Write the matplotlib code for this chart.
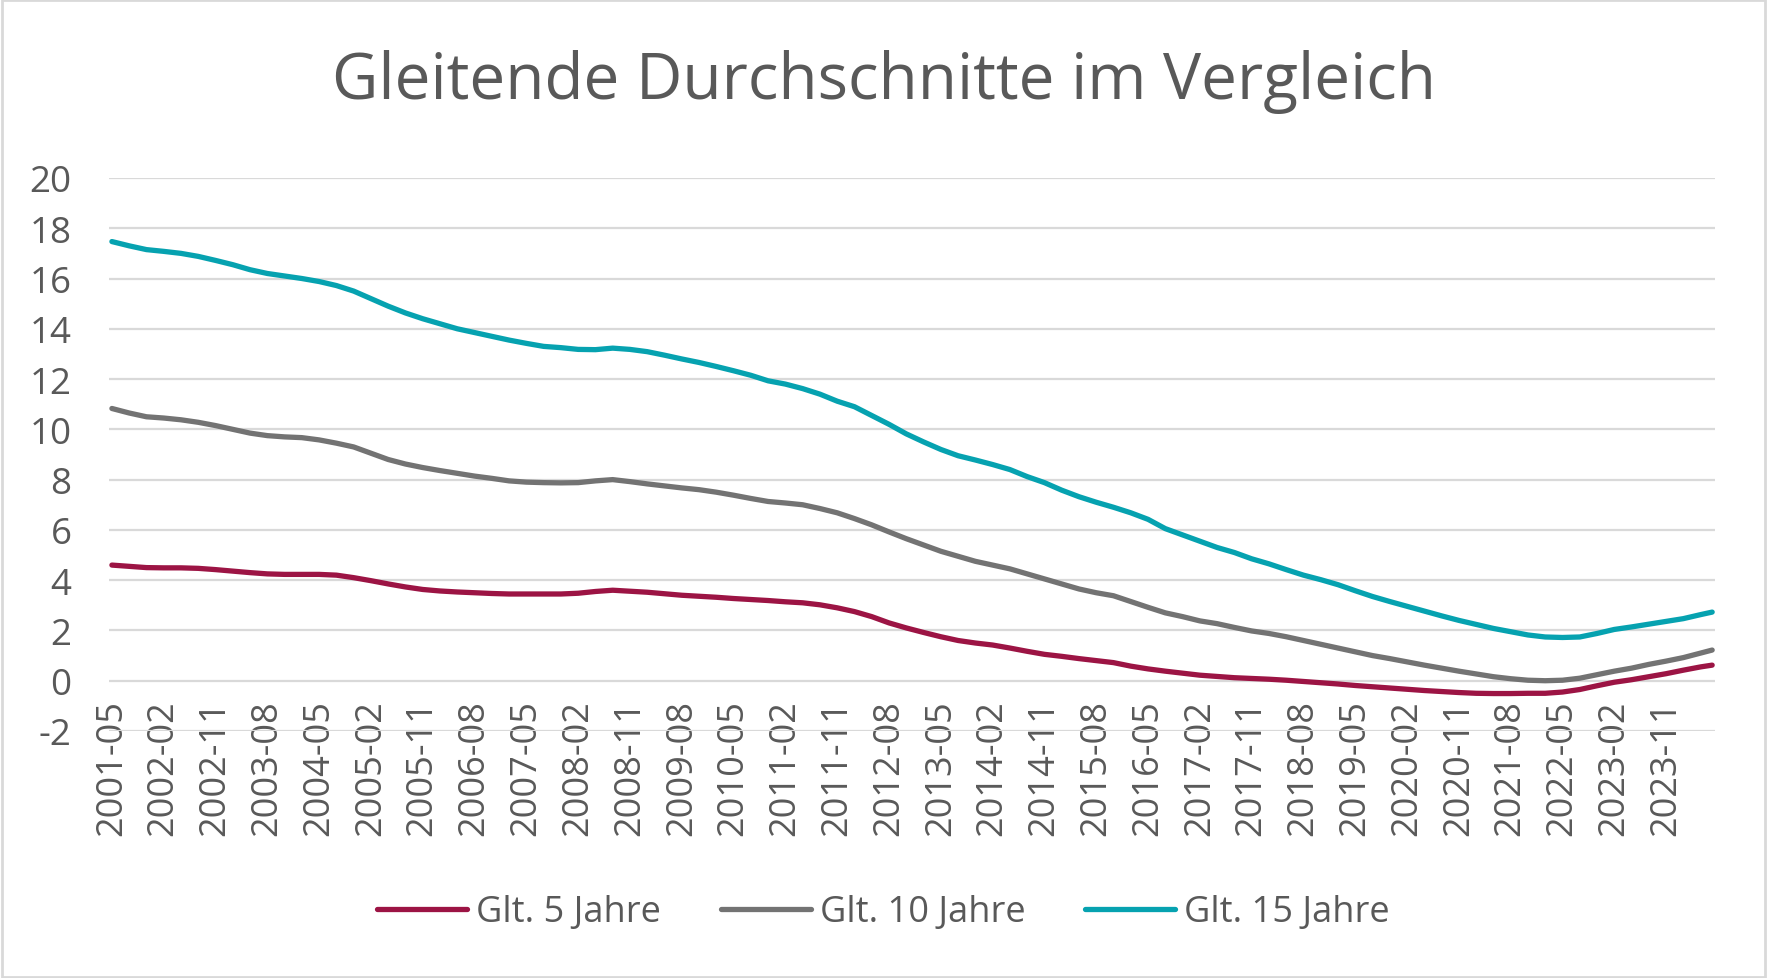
import matplotlib
matplotlib.use("Agg")
import matplotlib.pyplot as plt

plt.rcParams['font.family'] = ['Open Sans', 'DejaVu Sans']

# month index 0 = 2001-05, values read roughly every quarter
months = [0, 3, 6, 9, 12, 15, 18, 21, 24, 27, 30, 33, 36, 39, 42, 45, 48, 51, 54, 57,
          60, 63, 66, 69, 72, 75, 78, 81, 84, 87, 90, 93, 96, 99, 102, 105, 108, 111, 114, 117,
          120, 123, 126, 129, 132, 135, 138, 141, 144, 147, 150, 153, 156, 159, 162, 165, 168, 171, 174, 177,
          180, 183, 186, 189, 192, 195, 198, 201, 204, 207, 210, 213, 216, 219, 222, 225, 228, 231, 234, 237,
          240, 243, 246, 249, 252, 255, 258, 261, 264, 267, 270, 273, 276, 278]

glt_5 = [4.60, 4.55, 4.50, 4.49, 4.49, 4.47, 4.42, 4.36, 4.30, 4.25, 4.23, 4.23, 4.23, 4.20, 4.10, 3.98, 3.85, 3.73, 3.63, 3.57,
         3.53, 3.50, 3.47, 3.45, 3.45, 3.45, 3.45, 3.48, 3.55, 3.60, 3.56, 3.52, 3.46, 3.40, 3.36, 3.32, 3.27, 3.23, 3.19, 3.14,
         3.10, 3.02, 2.90, 2.75, 2.55, 2.30, 2.10, 1.92, 1.75, 1.60, 1.50, 1.42, 1.30, 1.17, 1.05, 0.97, 0.88, 0.80, 0.72, 0.58,
         0.47, 0.38, 0.30, 0.22, 0.17, 0.12, 0.09, 0.06, 0.02, -0.03, -0.08, -0.13, -0.19, -0.24, -0.29, -0.34, -0.39, -0.43, -0.47, -0.50,
         -0.51, -0.51, -0.50, -0.50, -0.45, -0.35, -0.20, -0.06, 0.04, 0.16, 0.28, 0.42, 0.55, 0.62]

glt_10 = [10.83, 10.65, 10.50, 10.45, 10.38, 10.28, 10.15, 10.00, 9.85, 9.75, 9.70, 9.67, 9.58, 9.45, 9.30, 9.05, 8.80, 8.62, 8.48, 8.36,
          8.25, 8.14, 8.05, 7.95, 7.90, 7.88, 7.87, 7.88, 7.95, 8.00, 7.92, 7.83, 7.75, 7.67, 7.60, 7.50, 7.38, 7.25, 7.13, 7.07,
          7.00, 6.85, 6.68, 6.45, 6.20, 5.92, 5.65, 5.40, 5.15, 4.95, 4.75, 4.60, 4.45, 4.25, 4.05, 3.85, 3.65, 3.50, 3.38, 3.15,
          2.92, 2.70, 2.55, 2.38, 2.27, 2.12, 1.98, 1.88, 1.75, 1.60, 1.45, 1.30, 1.15, 1.00, 0.88, 0.75, 0.62, 0.50, 0.38, 0.27,
          0.16, 0.08, 0.02, 0.00, 0.02, 0.10, 0.24, 0.38, 0.50, 0.65, 0.78, 0.92, 1.10, 1.22]

glt_15 = [17.47, 17.30, 17.15, 17.08, 17.00, 16.88, 16.72, 16.55, 16.35, 16.20, 16.10, 16.00, 15.88, 15.72, 15.50, 15.20, 14.90, 14.63, 14.40, 14.20,
          14.00, 13.85, 13.70, 13.55, 13.42, 13.30, 13.25, 13.18, 13.17, 13.23, 13.18, 13.09, 12.95, 12.80, 12.66, 12.50, 12.33, 12.15, 11.93, 11.80,
          11.62, 11.40, 11.12, 10.90, 10.55, 10.20, 9.82, 9.50, 9.20, 8.95, 8.78, 8.60, 8.40, 8.12, 7.88, 7.58, 7.32, 7.10, 6.90, 6.68,
          6.42, 6.05, 5.80, 5.55, 5.30, 5.10, 4.85, 4.65, 4.42, 4.20, 4.02, 3.82, 3.58, 3.35, 3.15, 2.96, 2.77, 2.58, 2.40, 2.24,
          2.08, 1.95, 1.82, 1.74, 1.72, 1.74, 1.88, 2.04, 2.14, 2.25, 2.36, 2.47, 2.63, 2.73]

tick_pos = list(range(0, 271, 9))
tick_labels = ['2001-05', '2002-02', '2002-11', '2003-08', '2004-05', '2005-02', '2005-11', '2006-08',
               '2007-05', '2008-02', '2008-11', '2009-08', '2010-05', '2011-02', '2011-11', '2012-08',
               '2013-05', '2014-02', '2014-11', '2015-08', '2016-05', '2017-02', '2017-11', '2018-08',
               '2019-05', '2020-02', '2020-11', '2021-08', '2022-05', '2023-02', '2023-11']
y_ticks = list(range(-2, 21, 2))

text_col = '#595959'
fig = plt.figure(figsize=(17.67, 9.79), dpi=100)
ax = fig.add_axes([0.0617, 0.2523, 0.9089, 0.5649])

ax.plot(months, glt_5, color='#9C1444', lw=3.8, label='Glt. 5 Jahre', solid_capstyle='round')
ax.plot(months, glt_10, color='#737373', lw=3.8, label='Glt. 10 Jahre', solid_capstyle='round')
ax.plot(months, glt_15, color='#06A2B0', lw=3.8, label='Glt. 15 Jahre', solid_capstyle='round')

ax.set_xlim(-0.5, 278.5)
ax.set_ylim(-2, 20)
ax.set_yticks(y_ticks)
ax.set_yticklabels([str(v) for v in y_ticks])
ax.set_xticks(tick_pos)
ax.set_xticklabels(tick_labels, rotation=90)
ax.grid(axis='y', color='#d9d9d9', lw=1.6)
ax.set_axisbelow(True)
for s in ax.spines.values():
    s.set_visible(False)
ax.tick_params(axis='y', length=0, pad=27, labelsize=26.5, labelcolor=text_col)
# the category labels sit across the -2 gridline, as in the original
ax.tick_params(axis='x', length=0, pad=-23, labelsize=26, labelcolor=text_col)

fig.text(0.5, 0.916, 'Gleitende Durchschnitte im Vergleich', ha='center', va='center',
         fontsize=46, color=text_col)

fig.legend(loc='center', bbox_to_anchor=(0.5, 0.067), ncol=3, frameon=False,
           fontsize=26, labelcolor=text_col, handlelength=2.5, handletextpad=0.25,
           columnspacing=1.65)

# thin grey border round the whole picture
fig.patches.append(plt.Rectangle((0.001, 0.001), 0.998, 0.998, transform=fig.transFigure,
                                 fill=False, edgecolor='#d9d9d9', lw=2))

fig.savefig('out.png', dpi=100)
